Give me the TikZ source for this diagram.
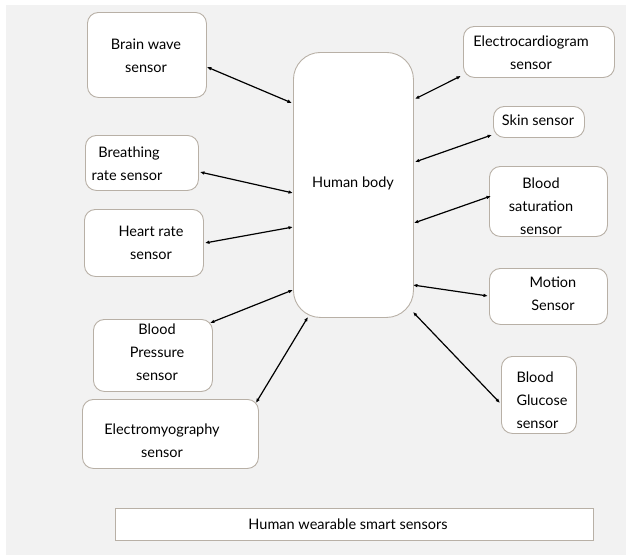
\documentclass[tikz,border=0pt]{standalone}
\usepackage{fontspec}
\setmainfont{Lato}
\usetikzlibrary{arrows.meta}
\definecolor{bgray}{HTML}{F2F2F2}
\definecolor{edge}{HTML}{B8B0A6}
\tikzset{
  sbox/.style={draw=edge, line width=0.9pt, fill=white, rounded corners=11pt,
    anchor=north west, inner sep=0pt},
  lbl/.style={font=\fontsize{14.5}{22.8}\selectfont, align=center, inner sep=0pt, text=black},
  link/.style={{Latex[length=4.5pt,width=3.6pt]}-{Latex[length=4.5pt,width=3.6pt]}, line width=1.2pt, black},
}
\newcommand{\boxat}[5]{% name, x1, y1, x2, y2
  \node[sbox, minimum width={(#4-#2)*1pt}, minimum height={(#5-#3)*1pt}] (#1) at (#2,#3) {};}
\begin{document}
\begin{tikzpicture}[x=1pt, y=-1pt]
\useasboundingbox (0,0) rectangle (626,555);
\fill[bgray] (6,5) rectangle (626,555);

% central body box
\node[sbox, rounded corners=27pt, minimum width=120pt, minimum height=265pt] (hb) at (293,52) {};
\node[lbl] (hbt) at (353,183) {Human body};

% sensors on the left
\boxat{brain}{87}{12}{206}{97}
\node[lbl] (braint) at (146,56) {Brain wave\\sensor};
\boxat{breath}{85}{135}{198}{190}
\node[lbl] (breatht) at (127,164) {\hspace*{4pt}Breathing\\rate sensor};
\boxat{heart}{84}{209}{203}{276}
\node[lbl] (heartt) at (151,243) {Heart rate\\sensor};
\boxat{bp}{93}{319}{212}{391}
\node[lbl] (bpt) at (157,352) {Blood\\Pressure\\sensor};
\boxat{emg}{82}{399}{258}{468}
\node[lbl] (emgt) at (162,441) {Electromyography\\sensor};

% sensors on the right
\boxat{ecg}{463}{26}{614}{77}
\node[lbl] (ecgt) at (531,53) {Electrocardiogram\\sensor};
\boxat{skin}{493}{106}{584}{137}
\node[lbl] (skint) at (538,120) {Skin sensor};
\boxat{sat}{489}{166}{607}{236}
\node[lbl] (satt) at (541,206) {Blood\\saturation\\sensor};
\boxat{motion}{489}{268}{607}{324}
\node[lbl] (motiont) at (553,294) {Motion\\Sensor};
\boxat{glu}{501}{356}{576}{433}
\node[lbl, align=left] (glut) at (542,400) {Blood\\Glucose\\sensor};

% caption bar
\node[draw=edge, line width=0.9pt, fill=white, anchor=north west, minimum width=478pt,
  minimum height=32pt, inner sep=0pt] (cap) at (115,508) {};
\node[lbl] (capt) at (348,524) {Human wearable smart sensors};

% links between the body and each sensor
\draw[link] ([yshift=-55pt]brain.north east) -- ([xshift=-1pt,yshift=-51pt]hb.north west);
\draw[link] ([xshift=1pt,yshift=-37pt]breath.north east) -- ([yshift=-141pt]hb.north west);
\draw[link] ([xshift=1pt,yshift=-34pt]heart.north east) -- ([yshift=-175pt]hb.north west);
\draw[link] ([xshift=-3pt,yshift=-4pt]bp.north east) -- ([yshift=28pt]hb.south west);
\draw[link] ([xshift=-3pt,yshift=-4pt]emg.north east) -- ([xshift=15pt,yshift=1pt]hb.south west);
\draw[link] ([xshift=1pt,yshift=-47pt]hb.north east) -- ([xshift=-2pt,yshift=2pt]ecg.south west);
\draw[link] ([xshift=1pt,yshift=-110pt]hb.north east) -- ([xshift=-1pt,yshift=3pt]skin.south west);
\draw[link] ([yshift=-171pt]hb.north east) -- ([xshift=2pt,yshift=-30pt]sat.north west);
\draw[link] ([xshift=-1pt,yshift=-233pt]hb.north east) -- ([xshift=-1pt,yshift=-28pt]motion.north west);
\draw[link] ([xshift=-1pt,yshift=6pt]hb.south east) -- ([xshift=-1pt,yshift=-47pt]glu.north west);
\end{tikzpicture}
\end{document}
